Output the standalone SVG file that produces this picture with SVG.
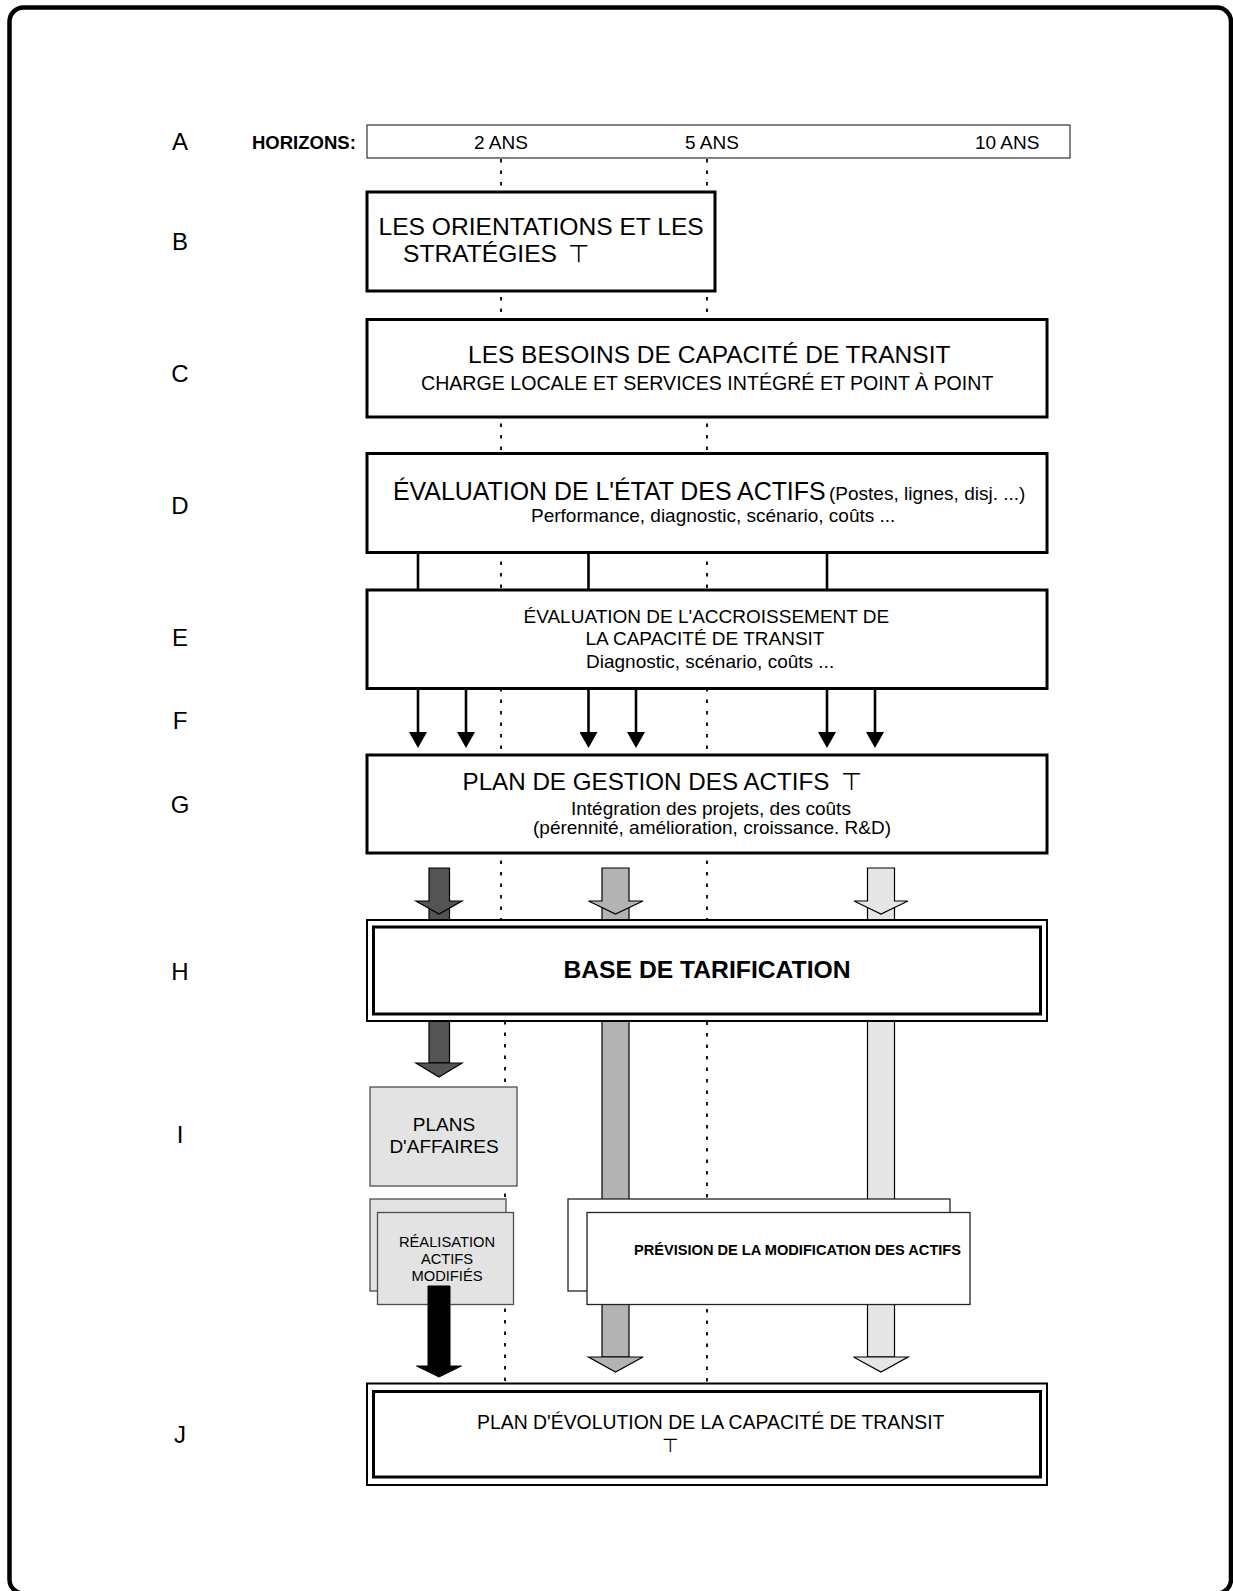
<svg xmlns="http://www.w3.org/2000/svg" width="1233" height="1591" viewBox="0 0 1233 1591">
<style>
text{font-family:"Liberation Sans",Arial,Helvetica,sans-serif;fill:#000}
.lbl{font-size:24px;text-anchor:middle}
.box{fill:#fff;stroke:#000;stroke-width:3}
.thin{fill:#fff;stroke:#333;stroke-width:1.2}
.dot{stroke:#000;stroke-width:1.8;stroke-dasharray:3.5 8;fill:none}
.conn{stroke:#000;stroke-width:2.6;fill:none}
.t24{font-size:24.5px}
.t19{font-size:19px}
.tack{font-family:"DejaVu Sans",sans-serif;font-weight:normal}
.gray{fill:#e3e3e3;stroke:#4d4d4d;stroke-width:1.3}
.wbox{fill:#fff;stroke:#222;stroke-width:1.3}
.dark{fill:#545454;stroke:#000;stroke-width:1.2}
.mid{fill:#b3b3b3;stroke:#000;stroke-width:1.2}
.light{fill:#e6e6e6;stroke:#000;stroke-width:1.2}
.dbl-o{fill:#fff;stroke:#000;stroke-width:2}
.dbl-i{fill:none;stroke:#000;stroke-width:3}
</style>
<defs>
<marker id="ah" viewBox="0 0 16 18" refX="0" refY="9" markerWidth="16" markerHeight="18" markerUnits="userSpaceOnUse" orient="auto">
<path d="M0,0 L16,9 L0,18 Z" fill="#000"/>
</marker>
</defs>
<rect width="1233" height="1591" fill="#fff"/>
<g id="frame">
<rect x="9.5" y="7.5" width="1221.5" height="1586" rx="14" ry="14" fill="none" stroke="#000" stroke-width="4.5"/>
</g>
<g id="row-labels">
<text class="lbl" x="180" y="150">A</text>
<text class="lbl" x="180" y="250">B</text>
<text class="lbl" x="180" y="382">C</text>
<text class="lbl" x="180" y="514">D</text>
<text class="lbl" x="180" y="646">E</text>
<text class="lbl" x="180" y="729">F</text>
<text class="lbl" x="180" y="813">G</text>
<text class="lbl" x="180" y="980">H</text>
<text class="lbl" x="180" y="1143">I</text>
<text class="lbl" x="180" y="1443">J</text>
</g>
<g id="guides">
<line class="dot" x1="501" y1="159" x2="501" y2="920"/>
<line class="dot" x1="505" y1="1021" x2="505" y2="1383"/>
<line class="dot" x1="707" y1="159" x2="707" y2="1383"/>
</g>
<g id="connectors">
<line class="conn" x1="418" y1="553" x2="418" y2="590"/>
<line class="conn" x1="588.5" y1="553" x2="588.5" y2="590"/>
<line class="conn" x1="827" y1="553" x2="827" y2="590"/>
<line class="conn" x1="418" y1="689" x2="418" y2="732" marker-end="url(#ah)"/>
<line class="conn" x1="466" y1="689" x2="466" y2="732" marker-end="url(#ah)"/>
<line class="conn" x1="588.5" y1="689" x2="588.5" y2="732" marker-end="url(#ah)"/>
<line class="conn" x1="636" y1="689" x2="636" y2="732" marker-end="url(#ah)"/>
<line class="conn" x1="827" y1="689" x2="827" y2="732" marker-end="url(#ah)"/>
<line class="conn" x1="875" y1="689" x2="875" y2="732" marker-end="url(#ah)"/>
<rect class="dark" x="429" y="901" width="20.5" height="162"/>
<rect class="mid" x="602" y="901" width="27" height="456"/>
<rect class="light" x="867.5" y="901" width="27" height="456"/>
<polygon class="dark" points="429,868 449.5,868 449.5,901 462,901 439,914 416,901 429,901"/>
<polygon class="mid" points="602,868 629,868 629,901 643,901 615.5,914 588.5,901 602,901"/>
<polygon class="light" points="867.5,868 894.5,868 894.5,901 908,901 881,914 854,901 867.5,901"/>
<polygon class="dark" points="416,1063 462,1063 439,1077"/>
<polygon class="mid" points="588.5,1357 643,1357 615.5,1372"/>
<polygon class="light" points="853.5,1357 908,1357 881,1372"/>
</g>
<g id="node-A">
<rect class="thin" x="367" y="125" width="703" height="33"/>
<text x="252" y="149" style="font-size:18.5px;font-weight:bold">HORIZONS:</text>
<text class="t19" x="474" y="149">2 ANS</text>
<text class="t19" x="685" y="149">5 ANS</text>
<text class="t19" x="975" y="149">10 ANS</text>
</g>
<g id="node-B">
<rect class="box" x="367" y="192" width="348" height="99"/>
<text x="378.5" y="235" style="font-size:24.6px">LES ORIENTATIONS ET LES</text>
<text x="403" y="262" style="font-size:24.6px">STRATÉGIES <tspan class="tack" x="568">⊤</tspan></text>
</g>
<g id="node-C">
<rect class="box" x="367" y="319.5" width="680" height="97.5"/>
<text class="t24" x="468" y="362.5">LES BESOINS DE CAPACITÉ DE TRANSIT</text>
<text x="421" y="390" style="font-size:19.6px">CHARGE LOCALE ET SERVICES INTÉGRÉ ET POINT À POINT</text>
</g>
<g id="node-D">
<rect class="box" x="367" y="453.5" width="680" height="99"/>
<text x="393" y="500" style="font-size:24.9px">ÉVALUATION DE L'ÉTAT DES ACTIFS</text>
<text class="t19" x="829" y="500">(Postes, lignes, disj. ...)</text>
<text class="t19" x="531" y="522">Performance, diagnostic, scénario, coûts ...</text>
</g>
<g id="node-E">
<rect class="box" x="367" y="590" width="680" height="98.5"/>
<text class="t19" x="523.5" y="623">ÉVALUATION DE L'ACCROISSEMENT DE</text>
<text class="t19" x="585.5" y="645">LA CAPACITÉ DE TRANSIT</text>
<text class="t19" x="586" y="668">Diagnostic, scénario, coûts ...</text>
</g>
<g id="node-G">
<rect class="box" x="367" y="755" width="680" height="98"/>
<text x="462.5" y="790" style="font-size:24.2px">PLAN DE GESTION DES ACTIFS <tspan class="tack" x="841">⊤</tspan></text>
<text class="t19" x="571" y="815">Intégration des projets, des coûts</text>
<text class="t19" x="533" y="834">(pérennité, amélioration, croissance. R&amp;D)</text>
</g>
<g id="node-H">
<rect class="dbl-o" x="367" y="920" width="680" height="101"/>
<rect class="dbl-i" x="373.5" y="927" width="667" height="87"/>
<text x="707" y="978" style="font-size:24.7px;font-weight:bold;text-anchor:middle">BASE DE TARIFICATION</text>
</g>
<g id="node-I">
<rect class="gray" x="370" y="1087" width="147" height="99"/>
<text class="t19" x="444" y="1131" text-anchor="middle">PLANS</text>
<text class="t19" x="444" y="1153" text-anchor="middle">D'AFFAIRES</text>
</g>
<g id="node-realisation">
<rect class="gray" x="370" y="1199" width="136" height="92"/>
<rect class="gray" x="377.5" y="1212.5" width="136" height="92"/>
<text x="447" y="1246.5" style="font-size:14.7px;text-anchor:middle">RÉALISATION</text>
<text x="447" y="1263.5" style="font-size:14.7px;text-anchor:middle">ACTIFS</text>
<text x="447" y="1280.5" style="font-size:14.7px;text-anchor:middle">MODIFIÉS</text>
</g>
<g id="node-prevision">
<rect class="wbox" x="568" y="1199" width="382" height="92"/>
<rect class="wbox" x="587" y="1212.5" width="383" height="92"/>
<text x="634" y="1255" style="font-size:14.6px;font-weight:bold">PRÉVISION DE LA MODIFICATION DES ACTIFS</text>
</g>
<g id="node-J">
<rect class="dbl-o" x="367" y="1383.5" width="680" height="101.5"/>
<rect class="dbl-i" x="373.5" y="1391.5" width="667" height="85.5"/>
<text x="477" y="1429" style="font-size:19.4px">PLAN D'ÉVOLUTION DE LA CAPACITÉ DE TRANSIT</text>
<text class="t19 tack" x="662" y="1452">⊤</text>
</g>
<g id="connectors-front">
<polygon fill="#000" stroke="#000" stroke-width="1" points="428,1286 450,1286 450,1366 461.5,1366 439,1377 416.5,1366 428,1366"/>
</g>
</svg>
